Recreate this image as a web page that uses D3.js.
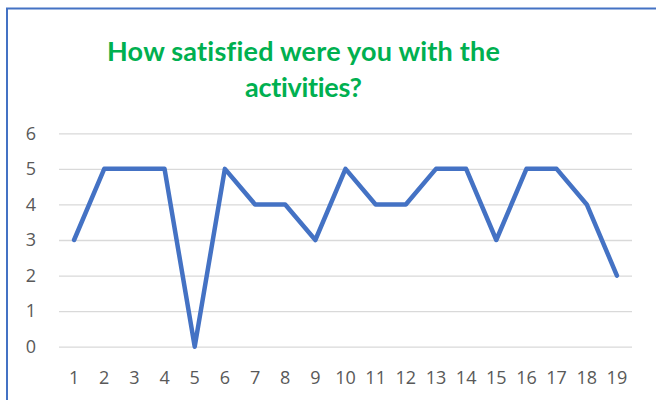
<!DOCTYPE html>
<html>
<head>
<meta charset="utf-8">
<script src="https://cdn.jsdelivr.net/npm/d3@7"></script>
<style>
  html, body { margin: 0; padding: 0; background: #fff; }
  svg { display: block; }
</style>
</head>
<body>
<svg id="chart" width="656" height="400"></svg>
<script>
const categories = ["1","2","3","4","5","6","7","8","9","10","11","12","13","14","15","16","17","18","19"];
const values = [3,5,5,5,0,5,4,4,3,5,4,4,5,5,3,5,5,4,2];
const yTicks = [0,1,2,3,4,5,6];
const titleLines = ["How satisfied were you with the", "activities?"];

const svg = d3.select("#chart");
const W = 656, H = 400;
const plot = {left: 59, right: 632, top: 133.3, bottom: 346.7};

svg.append("rect").attr("width", W).attr("height", H).attr("fill", "#fff");

// frame
svg.append("path")
  .attr("d", `M7,${H} V8.5 H${W}`)
  .attr("fill", "none")
  .attr("stroke", "#4472C4")
  .attr("stroke-width", 2);

const x = d3.scaleBand().domain(categories).range([plot.left, plot.right]).padding(0);
const y = d3.scaleLinear().domain([0, 6]).range([plot.bottom, plot.top]);

// gridlines
const yAxis = d3.axisLeft(y).tickValues(yTicks).tickSize(-(plot.right - plot.left)).tickPadding(23).tickFormat(d3.format("d"));
const gy = svg.append("g").attr("transform", `translate(${plot.left},0)`).call(yAxis);
gy.select(".domain").remove();
gy.selectAll(".tick line").attr("stroke", "#D9D9D9").attr("stroke-width", 1.3);
gy.selectAll(".tick text")
  .attr("fill", "#595959")
  .style("font-family", "'Open Sans', sans-serif")
  .style("font-size", "18px");

const xAxis = d3.axisBottom(x).tickSize(0).tickPadding(0);
const gx = svg.append("g").attr("transform", `translate(0,${plot.bottom})`).call(xAxis);
gx.select(".domain").remove();
gx.selectAll(".tick text")
  .attr("dy", null)
  .attr("y", 37.5)
  .attr("fill", "#595959")
  .style("font-family", "'Open Sans', sans-serif")
  .style("font-size", "18px");

// line
const line = d3.line()
  .x((d, i) => x(categories[i]) + x.bandwidth() / 2)
  .y(d => y(d));
svg.append("path")
  .datum(values)
  .attr("d", line)
  .attr("fill", "none")
  .attr("stroke", "#4472C4")
  .attr("stroke-width", 4.5)
  .attr("stroke-linejoin", "round")
  .attr("stroke-linecap", "round");

// title
const title = svg.append("text")
  .attr("text-anchor", "middle")
  .attr("fill", "#00B050")
  .style("font-family", "Lato, sans-serif")
  .style("font-weight", "bold")
  .style("font-size", "27px")
  .style("font-variant-ligatures", "none");
title.append("tspan").attr("x", 303.5).attr("y", 61)
  .attr("textLength", 393).attr("lengthAdjust", "spacing").text(titleLines[0]);
title.append("tspan").attr("x", 303.5).attr("y", 97)
  .attr("textLength", 117).attr("lengthAdjust", "spacing").text(titleLines[1]);
</script>
</body>
</html>
